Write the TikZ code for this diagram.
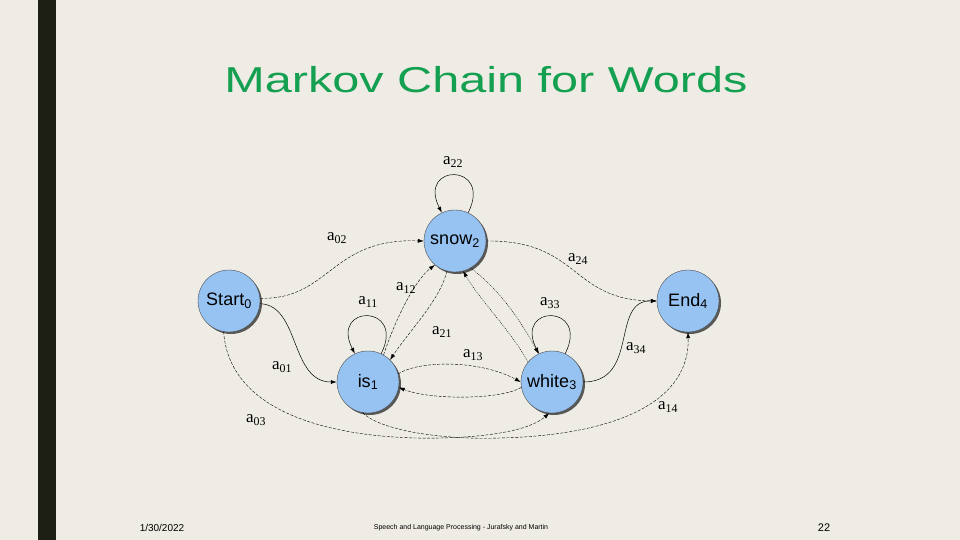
\documentclass[tikz,border=0pt]{standalone}
\usepackage{fontspec}
\setmainfont{Liberation Sans}
\newfontfamily\serif{Liberation Serif}
\usetikzlibrary{arrows.meta,shadows}
\definecolor{bg}{HTML}{EEECE5}
\definecolor{bar}{HTML}{1E1F14}
\definecolor{ttl}{HTML}{14A050}
\definecolor{nodefill}{HTML}{96C3F2}
\newcommand{\sbs}[1]{\textsubscript{#1}}
\begin{document}
\begin{tikzpicture}[x=1pt,y=-1pt,
  st/.style={circle,minimum size=62pt,inner sep=0pt,fill=nodefill,draw=black!70,line width=0.4pt,
    drop shadow={shadow xshift=2pt,shadow yshift=-2pt,fill=black!80,opacity=0.8},font=\fontsize{18}{18}\selectfont},
  ed/.style={-{Latex[length=6pt,width=4pt]},line width=0.5pt},
  dsh/.style={ed,dash pattern=on 3pt off 1.5pt,line width=0.4pt},
  dot/.style={ed,dash pattern=on 1pt off 1pt,line width=0.4pt},
  lb/.style={font=\serif\fontsize{17}{17}\selectfont,inner sep=0pt}]
\fill[bg] (0,0) rectangle (960,540);
\fill[bar] (38,0) rectangle (56,540);
\node[text=ttl,font=\fontsize{36}{36}\selectfont,xscale=1.35,transform shape] (title) at (486,80) {Markov Chain for Words};
\node[font=\fontsize{10}{10}\selectfont] (date) at (162,528) {1/30/2022};
\node[font=\fontsize{7}{7}\selectfont] (foot) at (461,528) {Speech and Language Processing - Jurafsky and Martin};
\node[font=\fontsize{11}{11}\selectfont] (pg) at (824,528) {22};

\node[st] (s) at (229,301) {Start\sbs{0}};
\node[st] (n) at (455,241) {snow\sbs{2}};
\node[st] (i) at (368,382) {is\sbs{1}};
\node[st] (w) at (552,382) {white\sbs{3}};
\node[st] (e) at (688,301) {End\sbs{4}};

% self loops
\draw[ed] (n.65) .. controls +(25,-50) and +(-25,-50) .. (n.115);
\draw[ed] (i.65) .. controls +(25,-50) and +(-25,-50) .. (i.115);
\draw[ed] (w.65) .. controls +(25,-50) and +(-25,-50) .. (w.115);
\node[lb] (l22) at (453,162) {a\sbs{22}};
\node[lb] (l11) at (368,302) {a\sbs{11}};
\node[lb] (l33) at (550,303) {a\sbs{33}};

\draw[dsh] (s.5) .. controls (330,300) and (330,238) .. (n.west);
\node[lb] (l02) at (337,238) {a\sbs{02}};
\draw[dsh] (n.east) .. controls (580,240) and (570,300) .. (e.west);
\node[lb] (l24) at (578,259) {a\sbs{24}};
\draw[ed] (s.-5) .. controls (300,305) and (290,382) .. (i.west);
\node[lb] (l01) at (282,367) {a\sbs{01}};
\draw[ed] (w.east) .. controls (640,382) and (610,300) .. (e.west);
\node[lb] (l34) at (636,348) {a\sbs{34}};
\draw[dsh] (s.-100) .. controls (230,420) and (350,440) .. (440,438) .. controls (490,437) and (530,430) .. (w.-95);
\node[lb] (l03) at (256,420) {a\sbs{03}};
\draw[dsh] (i.-100) .. controls (380,430) and (440,440) .. (500,438) .. controls (620,435) and (690,400) .. (e.-90);
\node[lb] (l14) at (668,407) {a\sbs{14}};

\draw[dsh] (i.60) .. controls (395,320) and (415,280) .. (n.-130);
\node[lb] (l12) at (406,288) {a\sbs{12}};
\draw[dsh] (n.-105) .. controls (440,300) and (410,330) .. (i.45);
\node[lb] (l21) at (442,332) {a\sbs{21}};
\draw[dot] (n.-60) .. controls (500,290) and (520,320) .. (w.115);
\draw[dot] (w.140) .. controls (510,330) and (480,300) .. (n.-75);
\draw[dsh] (i.15) .. controls (420,360) and (480,360) .. (w.west);
\node[lb] (l13) at (473,355) {a\sbs{13}};
\draw[dsh] (w.-170) .. controls (500,400) and (430,400) .. (i.-10);
\useasboundingbox (0,0) rectangle (960,540);
\end{tikzpicture}
\end{document}
